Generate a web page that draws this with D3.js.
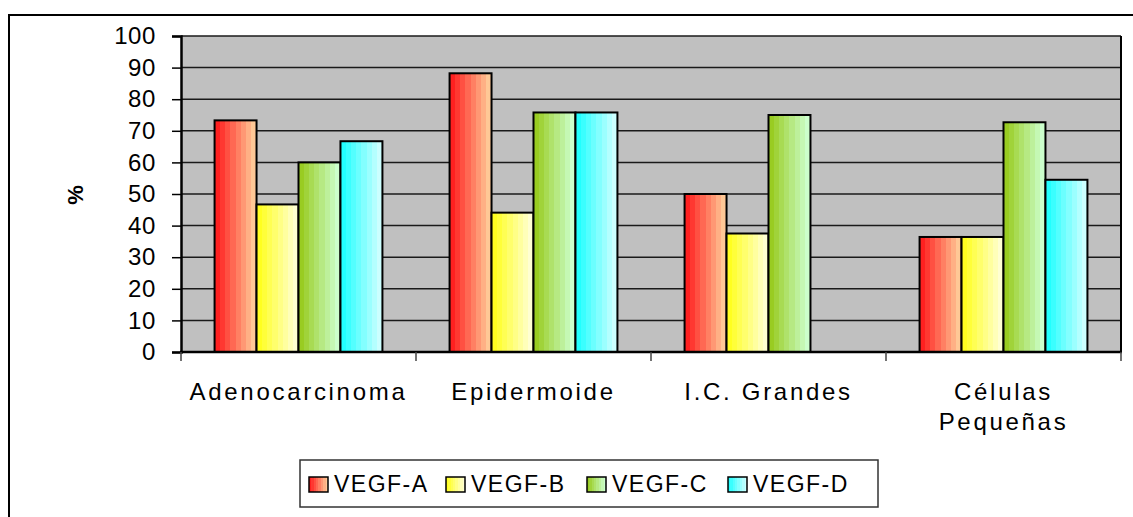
<!DOCTYPE html>
<html lang="es">
<head>
<meta charset="UTF-8" />
<title>VEGF</title>
<script src="https://d3js.org/d3.v7.min.js"></script>
<style>
    body { margin: 0; padding: 0; background: #fff; }
    svg text { font-family: 'Liberation Sans', Arial, sans-serif; fill: #000; }
</style>
</head>
<body>
<svg id="chart" width="1133" height="517"></svg>
<script>
    const categories = ['Adenocarcinoma', 'Epidermoide', 'I.C. Grandes', 'Células Pequeñas'];
    const series = ['VEGF-A', 'VEGF-B', 'VEGF-C', 'VEGF-D'];
    const vegfA = [73.3, 88.2, 50, 36.4];
    const vegfB = [46.7, 44.1, 37.5, 36.4];
    const vegfC = [60, 75.8, 75, 72.7];
    const vegfD = [66.7, 75.8, null, 54.5];
    const yTicks = [0, 10, 20, 30, 40, 50, 60, 70, 80, 90, 100];

    const values = [vegfA, vegfB, vegfC, vegfD];
    const gradColors = [
        ['#ff2020', '#ffc896'],
        ['#ffff20', '#ffffd2'],
        ['#99cc22', '#ccffcc'],
        ['#22ffff', '#ccffff']
    ];

    const svg = d3.select('#chart');
    const plot = { left: 181, right: 1121, top: 36, bottom: 352 };

    // banded gradients like the old office renderer
    const defs = svg.append('defs');
    gradColors.forEach((c, i) => {
        const g = defs.append('linearGradient').attr('id', 'grad' + i)
            .attr('x1', '0%').attr('x2', '100%').attr('y1', '0%').attr('y2', '0%');
        const steps = 8;
        const interp = d3.interpolateRgb(c[0], c[1]);
        for (let s = 0; s < steps; s++) {
            const col = interp(s / (steps - 1));
            g.append('stop').attr('offset', (s / steps * 100) + '%').attr('stop-color', col);
            g.append('stop').attr('offset', ((s + 1) / steps * 100) + '%').attr('stop-color', col);
        }
    });

    // outer frame
    svg.append('rect').attr('x', 9).attr('y', 15).attr('width', 1140).attr('height', 520)
        .attr('fill', 'none').attr('stroke', '#000').attr('stroke-width', 2);

    const x0 = d3.scaleBand().domain(categories).range([plot.left, plot.right]).padding(0);
    const x1 = d3.scaleBand().domain(series).range([0, x0.bandwidth()]).paddingInner(0).paddingOuter(0.8);
    const y = d3.scaleLinear().domain([0, 100]).range([plot.bottom, plot.top]);

    svg.append('rect').attr('x', plot.left).attr('y', plot.top)
        .attr('width', plot.right - plot.left).attr('height', plot.bottom - plot.top)
        .attr('fill', '#c0c0c0');

    // gridlines
    svg.append('g').selectAll('line').data(yTicks.filter(d => d > 0)).join('line')
        .attr('x1', plot.left).attr('x2', plot.right)
        .attr('y1', d => y(d)).attr('y2', d => y(d))
        .attr('stroke', '#1a1a1a').attr('stroke-width', 1.5);

    // right border of plot
    svg.append('line').attr('x1', plot.right).attr('x2', plot.right)
        .attr('y1', plot.top).attr('y2', plot.bottom)
        .attr('stroke', '#000').attr('stroke-width', 2);

    // bars
    const groups = svg.append('g').selectAll('g').data(categories).join('g')
        .attr('transform', d => `translate(${x0(d)},0)`);
    groups.selectAll('rect')
        .data((c, ci) => series.map((s, si) => ({ s, si, v: values[si][ci] })).filter(d => d.v != null))
        .join('rect')
        .attr('x', d => x1(d.s))
        .attr('y', d => y(d.v))
        .attr('width', x1.bandwidth())
        .attr('height', d => y(0) - y(d.v))
        .attr('fill', d => `url(#grad${d.si})`)
        .attr('stroke', '#000').attr('stroke-width', 2);

    // y axis
    const yAxis = svg.append('g').attr('transform', `translate(${plot.left},0)`)
        .call(d3.axisLeft(y).tickValues(yTicks).tickSize(9).tickPadding(16));
    yAxis.select('.domain').attr('stroke', '#000').attr('stroke-width', 2.5);
    yAxis.selectAll('.tick line').attr('stroke', '#000').attr('stroke-width', 1.5);
    yAxis.selectAll('.tick text').attr('font-size', 24).attr('letter-spacing', 0.6)
        .attr('font-family', "'Liberation Sans', Arial, sans-serif").attr('fill', '#000');

    // x axis
    svg.append('line').attr('x1', plot.left - 1).attr('x2', plot.right + 1)
        .attr('y1', plot.bottom).attr('y2', plot.bottom)
        .attr('stroke', '#000').attr('stroke-width', 2.5);
    const bounds = categories.map(c => x0(c)).concat([plot.right]);
    svg.append('g').selectAll('line').data(bounds).join('line')
        .attr('x1', d => d).attr('x2', d => d)
        .attr('y1', plot.bottom).attr('y2', plot.bottom + 9)
        .attr('stroke', '#444').attr('stroke-width', 1.5);

    const catLines = { 'Células Pequeñas': ['Células', 'Pequeñas'] };
    categories.forEach(c => {
        const lines = catLines[c] || [c];
        const t = svg.append('text').attr('x', x0(c) + x0.bandwidth() / 2).attr('y', 400)
            .attr('text-anchor', 'middle').attr('font-size', 24).attr('letter-spacing', 2.7);
        lines.forEach((l, i) => {
            t.append('tspan').attr('x', x0(c) + x0.bandwidth() / 2).attr('dy', i === 0 ? 0 : 30).text(l);
        });
    });

    // y title
    svg.append('text').attr('transform', 'translate(83,195) rotate(-90)')
        .attr('text-anchor', 'middle').attr('font-size', 22).attr('font-weight', 'bold').text('%');

    // legend
    const legend = svg.append('g');
    legend.append('rect').attr('x', 300).attr('y', 460).attr('width', 578).attr('height', 47)
        .attr('fill', '#fff').attr('stroke', '#333').attr('stroke-width', 1.5);
    const legX = [309, 446, 587, 728];
    series.forEach((s, i) => {
        legend.append('rect').attr('x', legX[i]).attr('y', 477).attr('width', 19).attr('height', 15)
            .attr('fill', `url(#grad${i})`).attr('stroke', '#000').attr('stroke-width', 1.5);
        legend.append('text').attr('x', legX[i] + 25).attr('y', 492)
            .attr('font-size', 23).attr('letter-spacing', 1.5).text(s);
    });
</script>
</body>
</html>
